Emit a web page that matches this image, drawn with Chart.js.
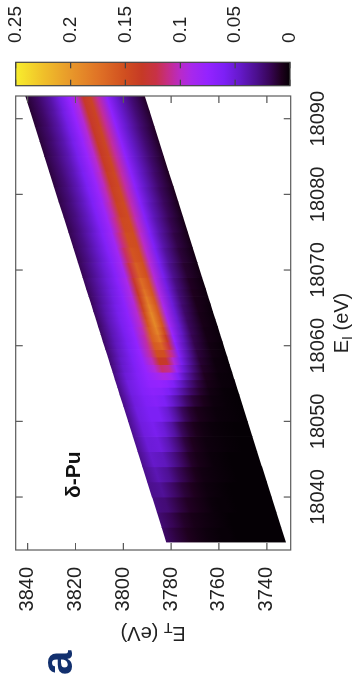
<!DOCTYPE html>
<html>
<head>
<meta charset="utf-8">
<script src="https://cdn.jsdelivr.net/npm/chart.js@4.4.1/dist/chart.umd.min.js"></script>
<style>
  html, body { margin: 0; padding: 0; background: #fff; overflow: hidden; }
  /* the figure is laid out landscape and turned a quarter turn */
  #page {
    position: absolute; left: 0; top: 0; width: 687px; height: 361px;
    transform-origin: 0 0; transform: translate(0, 687px) rotate(-90deg);
  }
  #mapCanvas { position: absolute; left: 0; top: 0; }
  #barCanvas { position: absolute; left: 600px; top: 0; }
</style>
</head>
<body>
<div id="page">
  <canvas id="mapCanvas" width="600" height="361"></canvas>
  <canvas id="barCanvas" width="87" height="361"></canvas>
</div>
<script>
// incident energy of each measured row (eV)
const incidentEnergy = [
  18035, 18037, 18039, 18041, 18043, 18045, 18047, 18049, 18051, 18053,
  18054, 18055, 18056, 18057, 18058, 18059, 18060, 18061, 18062, 18063,
  18064, 18065, 18066, 18067, 18068, 18070, 18072, 18074, 18076, 18078,
  18080, 18082, 18084, 18086, 18088, 18090, 18092,
];
// emitted energy sample points along each row (eV); E_T = E_I - E_F
const emissionEnergy = [14252, 14257, 14262, 14266, 14270, 14273, 14276, 14279, 14282, 14286, 14290, 14296, 14302];
// intensity, one row per incident energy
const intensity = [
  [0.022, 0.014, 0.008, 0.005, 0.003, 0.002, 0.001, 0.001, 0.000, 0.000, 0.000, 0.000, 0.000],
  [0.025, 0.018, 0.010, 0.006, 0.004, 0.003, 0.002, 0.001, 0.000, 0.000, 0.000, 0.000, 0.000],
  [0.028, 0.025, 0.015, 0.009, 0.006, 0.004, 0.002, 0.001, 0.001, 0.000, 0.000, 0.000, 0.000],
  [0.030, 0.033, 0.022, 0.013, 0.008, 0.005, 0.003, 0.002, 0.001, 0.000, 0.000, 0.000, 0.000],
  [0.030, 0.040, 0.032, 0.020, 0.012, 0.007, 0.004, 0.003, 0.002, 0.001, 0.000, 0.000, 0.000],
  [0.030, 0.046, 0.042, 0.030, 0.018, 0.010, 0.006, 0.004, 0.002, 0.001, 0.000, 0.000, 0.000],
  [0.030, 0.050, 0.052, 0.040, 0.025, 0.014, 0.008, 0.005, 0.003, 0.002, 0.001, 0.000, 0.000],
  [0.030, 0.052, 0.058, 0.050, 0.035, 0.020, 0.012, 0.007, 0.004, 0.002, 0.001, 0.000, 0.000],
  [0.029, 0.053, 0.060, 0.060, 0.048, 0.034, 0.020, 0.012, 0.007, 0.004, 0.002, 0.001, 0.000],
  [0.028, 0.052, 0.062, 0.066, 0.060, 0.048, 0.035, 0.022, 0.013, 0.007, 0.003, 0.001, 0.000],
  [0.028, 0.053, 0.064, 0.070, 0.068, 0.060, 0.048, 0.034, 0.022, 0.011, 0.004, 0.001, 0.000],
  [0.028, 0.053, 0.064, 0.073, 0.076, 0.072, 0.062, 0.045, 0.030, 0.015, 0.006, 0.002, 0.001],
  [0.027, 0.050, 0.063, 0.075, 0.085, 0.092, 0.085, 0.062, 0.040, 0.021, 0.008, 0.002, 0.001],
  [0.025, 0.047, 0.062, 0.076, 0.095, 0.115, 0.110, 0.080, 0.050, 0.027, 0.010, 0.003, 0.001],
  [0.024, 0.045, 0.061, 0.076, 0.102, 0.135, 0.132, 0.096, 0.058, 0.032, 0.012, 0.003, 0.001],
  [0.023, 0.043, 0.060, 0.075, 0.106, 0.150, 0.150, 0.110, 0.065, 0.036, 0.014, 0.004, 0.001],
  [0.022, 0.042, 0.059, 0.074, 0.106, 0.158, 0.165, 0.124, 0.070, 0.039, 0.016, 0.004, 0.001],
  [0.021, 0.041, 0.058, 0.073, 0.105, 0.162, 0.178, 0.135, 0.075, 0.042, 0.017, 0.005, 0.002],
  [0.021, 0.040, 0.058, 0.073, 0.103, 0.160, 0.186, 0.146, 0.080, 0.045, 0.019, 0.005, 0.002],
  [0.020, 0.040, 0.058, 0.072, 0.100, 0.154, 0.190, 0.154, 0.085, 0.047, 0.020, 0.006, 0.002],
  [0.020, 0.039, 0.057, 0.071, 0.098, 0.148, 0.190, 0.157, 0.088, 0.049, 0.022, 0.006, 0.002],
  [0.020, 0.038, 0.056, 0.070, 0.097, 0.143, 0.186, 0.158, 0.090, 0.050, 0.023, 0.007, 0.002],
  [0.019, 0.036, 0.054, 0.069, 0.095, 0.139, 0.181, 0.157, 0.092, 0.051, 0.025, 0.007, 0.003],
  [0.019, 0.035, 0.053, 0.068, 0.093, 0.135, 0.176, 0.155, 0.093, 0.052, 0.026, 0.008, 0.003],
  [0.019, 0.034, 0.051, 0.067, 0.091, 0.131, 0.170, 0.154, 0.094, 0.054, 0.028, 0.009, 0.003],
  [0.018, 0.032, 0.049, 0.065, 0.087, 0.123, 0.161, 0.151, 0.096, 0.057, 0.031, 0.011, 0.004],
  [0.017, 0.030, 0.047, 0.064, 0.085, 0.117, 0.154, 0.150, 0.098, 0.059, 0.034, 0.013, 0.004],
  [0.017, 0.029, 0.046, 0.063, 0.083, 0.112, 0.150, 0.149, 0.100, 0.061, 0.037, 0.015, 0.005],
  [0.016, 0.028, 0.044, 0.062, 0.081, 0.108, 0.146, 0.148, 0.102, 0.063, 0.039, 0.017, 0.005],
  [0.016, 0.027, 0.043, 0.061, 0.080, 0.105, 0.142, 0.147, 0.104, 0.065, 0.041, 0.019, 0.006],
  [0.015, 0.026, 0.042, 0.060, 0.079, 0.103, 0.140, 0.146, 0.105, 0.067, 0.043, 0.020, 0.007],
  [0.014, 0.025, 0.041, 0.059, 0.078, 0.101, 0.138, 0.145, 0.106, 0.069, 0.045, 0.022, 0.008],
  [0.014, 0.025, 0.040, 0.058, 0.078, 0.099, 0.136, 0.144, 0.107, 0.070, 0.046, 0.023, 0.008],
  [0.013, 0.024, 0.039, 0.057, 0.077, 0.098, 0.135, 0.143, 0.107, 0.071, 0.047, 0.024, 0.009],
  [0.013, 0.023, 0.038, 0.056, 0.076, 0.097, 0.134, 0.143, 0.108, 0.071, 0.047, 0.024, 0.009],
  [0.012, 0.022, 0.037, 0.055, 0.076, 0.096, 0.133, 0.142, 0.108, 0.072, 0.048, 0.025, 0.010],
  [0.012, 0.022, 0.036, 0.054, 0.075, 0.095, 0.132, 0.142, 0.108, 0.072, 0.048, 0.025, 0.010],
];
const eiTicks = [18040, 18050, 18060, 18070, 18080, 18090];
const etTicks = [3740, 3760, 3780, 3800, 3820, 3840];
const cbTicks = [0, 0.05, 0.1, 0.15, 0.2, 0.25];

// colour map: value -> rgb
const palette = [
  [0.000, 5, 0, 5],
  [0.008, 30, 0, 30],
  [0.018, 55, 5, 85],
  [0.030, 75, 15, 140],
  [0.045, 100, 25, 200],
  [0.060, 125, 32, 245],
  [0.075, 148, 35, 255],
  [0.090, 168, 40, 235],
  [0.100, 185, 42, 200],
  [0.112, 198, 45, 130],
  [0.122, 200, 50, 70],
  [0.135, 198, 58, 38],
  [0.150, 208, 78, 32],
  [0.175, 224, 115, 38],
  [0.200, 232, 152, 42],
  [0.225, 240, 192, 42],
  [0.250, 248, 238, 45],
];

const colorFor = (v) => {
  if (v <= palette[0][0]) return `rgb(${palette[0][1]},${palette[0][2]},${palette[0][3]})`;
  for (let i = 1; i < palette.length; i++) {
    if (v <= palette[i][0]) {
      const a = palette[i - 1], b = palette[i];
      const t = (v - a[0]) / (b[0] - a[0]);
      const c = [1, 2, 3].map((k) => Math.round(a[k] + (b[k] - a[k]) * t));
      return `rgb(${c[0]},${c[1]},${c[2]})`;
    }
  }
  const l = palette[palette.length - 1];
  return `rgb(${l[1]},${l[2]},${l[3]})`;
};

const FONT = "'Liberation Sans', Arial, Helvetica, sans-serif";
Chart.defaults.font.family = FONT;
Chart.defaults.color = '#222';

// draws an axis title like "E_I (eV)" with a subscript
const drawSubTitle = (ctx, main, sub, rest, cx, baseline) => {
  ctx.textAlign = 'left';
  ctx.textBaseline = 'alphabetic';
  ctx.font = `20px ${FONT}`;
  const w1 = ctx.measureText(main).width;
  const w3 = ctx.measureText(rest).width;
  ctx.font = `14px ${FONT}`;
  const w2 = ctx.measureText(sub).width;
  const x0 = cx - (w1 + w2 + w3) / 2;
  ctx.font = `20px ${FONT}`;
  ctx.fillText(main, x0, baseline);
  ctx.font = `14px ${FONT}`;
  ctx.fillText(sub, x0 + w1, baseline + 4);
  ctx.font = `20px ${FONT}`;
  ctx.fillText(rest, x0 + w1 + w2, baseline);
};

// strip edges halfway between neighbouring rows
const rowEdges = (i) => {
  const n = incidentEnergy.length;
  const e = incidentEnergy[i];
  const below = i > 0 ? (e + incidentEnergy[i - 1]) / 2 : e - 1;
  const above = i < n - 1 ? (e + incidentEnergy[i + 1]) / 2 : e + 2;
  return [i > 0 ? below - 0.05 : below, above + 0.05];
};

// each row is a strip of constant E_I; colour varies along E_F (diagonal in E_I/E_T)
const heatPlugin = {
  id: 'heat',
  beforeDatasetsDraw(chart) {
    const { ctx, chartArea: a, scales: { x, y } } = chart;
    const fMin = emissionEnergy[0];
    const fMax = emissionEnergy[emissionEnergy.length - 1];
    const px = (ei, et) => [x.getPixelForValue(ei), y.getPixelForValue(et)];
    ctx.save();
    ctx.beginPath();
    ctx.rect(a.left, a.top, a.right - a.left, a.bottom - a.top);
    ctx.clip();
    incidentEnergy.forEach((ei, i) => {
      const [lo, hi] = rowEdges(i);
      const p0 = px(ei, ei - fMin);
      const q = px(ei, ei - fMax);
      const d = px(ei + 1, ei + 1 - fMin);
      const dx = d[0] - p0[0], dy = d[1] - p0[1];
      const len = Math.hypot(dx, dy);
      const nx = -dy / len, ny = dx / len;
      const L = (q[0] - p0[0]) * nx + (q[1] - p0[1]) * ny;
      const grad = ctx.createLinearGradient(p0[0], p0[1], p0[0] + nx * L, p0[1] + ny * L);
      emissionEnergy.forEach((ef, j) => {
        grad.addColorStop((ef - fMin) / (fMax - fMin), colorFor(intensity[i][j]));
      });
      const c = [px(lo, lo - fMin), px(hi, hi - fMin), px(hi, hi - fMax), px(lo, lo - fMax)];
      ctx.beginPath();
      ctx.moveTo(c[0][0], c[0][1]);
      for (let k = 1; k < 4; k++) ctx.lineTo(c[k][0], c[k][1]);
      ctx.closePath();
      ctx.fillStyle = grad;
      ctx.fill();
    });
    ctx.restore();
  },
};

const framePlugin = {
  id: 'frame',
  afterDraw(chart) {
    const { ctx, chartArea: a, scales: { x, y } } = chart;
    ctx.save();
    ctx.strokeStyle = '#5a5a5a';
    ctx.lineWidth = 1.2;
    ctx.strokeRect(a.left, a.top, a.right - a.left, a.bottom - a.top);
    ctx.beginPath();
    x.ticks.forEach((t) => {
      const xp = x.getPixelForValue(t.value);
      ctx.moveTo(xp, a.bottom); ctx.lineTo(xp, a.bottom - 7);
      ctx.moveTo(xp, a.top); ctx.lineTo(xp, a.top + 7);
    });
    y.ticks.forEach((t) => {
      const yp = y.getPixelForValue(t.value);
      ctx.moveTo(a.left, yp); ctx.lineTo(a.left + 7, yp);
      ctx.moveTo(a.right, yp); ctx.lineTo(a.right - 7, yp);
    });
    ctx.stroke();

    ctx.fillStyle = '#222';
    drawSubTitle(ctx, 'E', 'I', ' (eV)', (a.left + a.right) / 2, 348);

    ctx.save();
    ctx.translate(60, (a.top + a.bottom) / 2);
    ctx.rotate(-Math.PI / 2);
    drawSubTitle(ctx, 'E', 'T', ' (eV)', 0, 0);
    ctx.restore();

    ctx.font = `bold 21px ${FONT}`;
    ctx.fillStyle = '#111';
    ctx.textAlign = 'left';
    ctx.fillText('δ-Pu', 189, 80);

    ctx.font = `bold 44px ${FONT}`;
    ctx.fillStyle = '#12306e';
    ctx.fillText('a', 12, 72);
    ctx.restore();
  },
};

new Chart(document.getElementById('mapCanvas'), {
  type: 'scatter',
  data: { datasets: [] },
  options: {
    responsive: false,
    animation: false,
    devicePixelRatio: 1,
    layout: { padding: { top: 15.7, right: 9, left: 0, bottom: 0 } },
    plugins: { legend: { display: false }, tooltip: { enabled: false } },
    scales: {
      x: {
        type: 'linear',
        min: 18033,
        max: 18093,
        afterBuildTicks: (s) => { s.ticks = eiTicks.map((v) => ({ value: v })); },
        afterFit: (s) => { s.height = 70.3; s.paddingLeft = 0; s.paddingRight = 0; },
        grid: { display: false, drawTicks: false },
        border: { display: false },
        ticks: { padding: 16, font: { size: 20 }, color: '#222', maxRotation: 0, autoSkip: false, callback: (v) => String(v) },
      },
      y: {
        type: 'linear',
        min: 3730,
        max: 3845,
        afterBuildTicks: (s) => { s.ticks = etTicks.map((v) => ({ value: v })); },
        afterFit: (s) => { s.width = 137; s.paddingTop = 0; s.paddingBottom = 0; },
        grid: { display: false, drawTicks: false },
        border: { display: false },
        ticks: { padding: 17, font: { size: 20 }, color: '#222', autoSkip: false, callback: (v) => String(v) },
      },
    },
  },
  plugins: [heatPlugin, framePlugin],
});

// colour bar
const barGradient = (chart) => {
  const { ctx, chartArea, scales } = chart;
  if (!chartArea) return null;
  const y = scales.y;
  const g = ctx.createLinearGradient(0, y.getPixelForValue(0), 0, y.getPixelForValue(0.25));
  palette.forEach((p) => g.addColorStop(p[0] / 0.25, `rgb(${p[1]},${p[2]},${p[3]})`));
  return g;
};

const barFramePlugin = {
  id: 'barFrame',
  afterDraw(chart) {
    const { ctx, chartArea: a, scales: { y } } = chart;
    ctx.save();
    ctx.strokeStyle = '#444';
    ctx.lineWidth = 1.2;
    ctx.strokeRect(a.left, a.top, a.right - a.left, a.bottom - a.top);
    ctx.beginPath();
    y.ticks.forEach((t) => {
      const yp = y.getPixelForValue(t.value);
      ctx.moveTo(a.left, yp); ctx.lineTo(a.left + 6, yp);
      ctx.moveTo(a.right, yp); ctx.lineTo(a.right - 6, yp);
    });
    ctx.stroke();
    ctx.restore();
  },
};

new Chart(document.getElementById('barCanvas'), {
  type: 'bar',
  data: {
    labels: [''],
    datasets: [{
      data: [cbTicks[cbTicks.length - 1]],
      backgroundColor: (c) => barGradient(c.chart),
      borderWidth: 0,
      barPercentage: 1,
      categoryPercentage: 1,
    }],
  },
  options: {
    responsive: false,
    animation: false,
    devicePixelRatio: 1,
    layout: { padding: { left: 1.3, top: 15.7, bottom: 71, right: 0 } },
    plugins: { legend: { display: false }, tooltip: { enabled: false } },
    scales: {
      x: { display: false },
      y: {
        position: 'right',
        min: 0,
        max: 0.25,
        afterBuildTicks: (s) => { s.ticks = cbTicks.map((v) => ({ value: v })); },
        afterFit: (s) => { s.width = 62.3; s.paddingTop = 0; s.paddingBottom = 0; },
        grid: { display: false, drawTicks: false },
        border: { display: false },
        ticks: { padding: 19.3, font: { size: 19 }, color: '#222', autoSkip: false, callback: (v) => String(v) },
      },
    },
  },
  plugins: [barFramePlugin],
});
</script>
</body>
</html>
